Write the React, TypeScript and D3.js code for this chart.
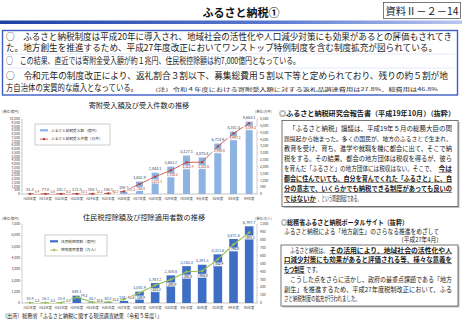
import React from 'react';
import * as d3 from 'd3';

const FONT = "'Noto Sans CJK JP', 'Noto Sans', sans-serif";

// ---------- chart data ----------
const topCategories = ['H20年度', 'H21年度', 'H22年度', 'H23年度', 'H24年度', 'H25年度', 'H26年度', 'H27年度', 'H28年度', 'H29年度', 'H30年度', 'R元年度', 'R2年度', 'R3年度', 'R4年度'];
const donationAmount = [81.4, 77.0, 102.2, 121.6, 104.1, 145.6, 388.5, 1652.9, 2844.1, 3653.2, 5127.1, 4875.4, 6724.9, 8302.4, 9654.1];
const donationCount = [5.4, 5.6, 8.0, 10.1, 12.2, 42.7, 191.3, 726.0, 1271.1, 1730.2, 2322.4, 2333.6, 3488.8, 4447.3, 5184.3];
const topLeftTicks = [0, 500, 1000, 1500, 2000, 2500, 3000, 3500, 4000, 4500, 5000, 5500, 6000, 6500, 7000, 7500, 8000, 8500, 9000, 9500, 10000];
const topRightTicks = [0, 500, 1000, 1500, 2000, 2500, 3000, 3500, 4000, 4500, 5000, 5500];

const bottomCategories = ['H21年度', 'H22年度', 'H23年度', 'H24年度', 'H25年度', 'H26年度', 'H27年度', 'H28年度', 'H29年度', 'H30年度', 'R元年度', 'R2年度', 'R3年度', 'R4年度', 'R5年度'];
const deductionAmount = [18.9, 16.1, 20.4, 649.1, 45.3, 60.6, 184.2, 1001.9, 1767.2, 2448.6, 3265.4, 3391.3, 4311.6, 5672.6, 6797.7];
const deductionPeople = [3.3, 3.3, 3.3, 74.2, 10.6, 13.3, 43.6, 129.9, 225.2, 295.9, 395.5, 406.0, 552.4, 740.8, 891.1];
const bottomLeftTicks = [0, 1000, 2000, 3000, 4000, 5000, 6000, 7000];
const bottomRightTicks = [0, 100, 200, 300, 400, 500, 600, 700, 800, 900, 1000];

const fmt1 = d3.format(',.1f');
const fmtTick = d3.format(',');

type ComboProps = {
  cats: string[]; bars: number[]; line: number[];
  left: number; right: number; top: number; bottom: number;
  leftMax: number; rightMax: number; leftTicks: number[]; rightTicks: number[];
  barColor: string; lineColor: string; barLabelColor: string; lineLabelColor: string;
  barPad: number; marker: 'square' | 'diamond';
  title: string; titleX: number; titleY: number;
  leftUnit: string; rightUnit: string; unitY: number;
  legend: [number, number, number, number]; legendBar: string; legendLine: string;
  nearPoint: number;
};

function Combo(p: ComboProps) {
  const x = d3.scaleBand<string>().domain(p.cats).range([p.left, p.right]).paddingInner(p.barPad).paddingOuter(p.barPad / 2);
  const yL = d3.scaleLinear().domain([0, p.leftMax]).range([p.bottom, p.top]);
  const yR = d3.scaleLinear().domain([0, p.rightMax]).range([p.bottom, p.top]);
  const cx = (c: string) => (x(c) as number) + x.bandwidth() / 2;
  const lineGen = d3.line<number>().x((_, i) => cx(p.cats[i])).y((d) => yR(d));
  const [lx, ly, lw, lh] = p.legend;
  const fs = 3.4;
  return (
    <g fontFamily={FONT}>
      <text x={p.titleX} y={p.titleY} textAnchor="middle" fontSize={7.2} fill="#222">{p.title}</text>
      <text x={2} y={p.unitY} fontSize={3.4} fill="#444">{p.leftUnit}</text>
      <text x={p.right - 2} y={p.unitY} fontSize={3.4} fill="#444">{p.rightUnit}</text>
      {/* axes */}
      <line x1={p.left} x2={p.left} y1={p.top} y2={p.bottom} stroke="#a0a0a0" strokeWidth={0.5} />
      <line x1={p.right} x2={p.right} y1={p.top} y2={p.bottom} stroke="#a0a0a0" strokeWidth={0.5} />
      <line x1={p.left} x2={p.right} y1={p.bottom} y2={p.bottom} stroke="#a0a0a0" strokeWidth={0.6} />
      {p.leftTicks.map((t) => (
        <g key={'l' + t}>
          <line x1={p.left - 1.2} x2={p.left} y1={yL(t)} y2={yL(t)} stroke="#a0a0a0" strokeWidth={0.4} />
          <text x={p.left - 2} y={yL(t) + 1.2} textAnchor="end" fontSize={fs} fill="#444">{fmtTick(t)}</text>
        </g>
      ))}
      {p.rightTicks.map((t) => (
        <g key={'r' + t}>
          <line x1={p.right} x2={p.right + 1.2} y1={yR(t)} y2={yR(t)} stroke="#a0a0a0" strokeWidth={0.4} />
          <text x={p.right + 3} y={yR(t) + 1.2} textAnchor="start" fontSize={fs} fill="#444">{fmtTick(t)}</text>
        </g>
      ))}
      {/* bars */}
      {p.bars.map((v, i) => (
        <rect key={'b' + i} x={x(p.cats[i])} y={yL(v)} width={x.bandwidth()} height={p.bottom - yL(v)} fill={p.barColor} />
      ))}
      {p.cats.map((c) => (
        <text key={'c' + c} x={cx(c)} y={p.bottom + 5.5} textAnchor="middle" fontSize={3.3} fill="#444">{c}</text>
      ))}
      {/* line */}
      <path d={lineGen(p.line) || ''} fill="none" stroke={p.lineColor} strokeWidth={p.marker === 'square' ? 0.8 : 1.1} />
      {p.line.map((v, i) => {
        const px = cx(p.cats[i]);
        const py = yR(v);
        return p.marker === 'square' ? (
          <rect key={'m' + i} x={px - 1} y={py - 1} width={2} height={2} fill={p.lineColor} />
        ) : (
          <path key={'m' + i} d={`M${px},${py - 1.5}L${px + 1.5},${py}L${px},${py + 1.5}L${px - 1.5},${py}Z`} fill={p.lineColor} />
        );
      })}
      {/* bar labels */}
      {p.bars.map((v, i) => (
        <text key={'bl' + i} x={cx(p.cats[i])} y={yL(v) - 2.4} textAnchor="middle" fontSize={3.8} fill={p.barLabelColor}>{fmt1(v)}</text>
      ))}
      {/* line labels */}
      {p.line.map((v, i) => {
        const label = fmt1(v);
        const w = label.length * 1.95 + 1.2;
        const near = i < p.nearPoint;
        const tx = near ? cx(p.cats[i]) + 7.2 : cx(p.cats[i]) + 1.5;
        const ty = near ? yR(v) - 0.6 : yR(v) + 6;
        return (
          <g key={'ll' + i}>
            <rect x={tx - w / 2} y={ty - 3.1} width={w} height={4} fill="#fff" fillOpacity={0.9} />
            <text x={tx} y={ty} textAnchor="middle" fontSize={3.3} fill={p.lineLabelColor}>{label}</text>
          </g>
        );
      })}
      {/* legend */}
      <rect x={lx} y={ly} width={lw} height={lh} fill="#fff" stroke="#9a9a9a" strokeWidth={0.5} />
      <rect x={lx + 5} y={ly + lh * 0.3 - 1.1} width={8} height={2.2} fill={p.barColor} />
      <text x={lx + 16} y={ly + lh * 0.3 + 1.3} fontSize={3.7} fill="#333">{p.legendBar}</text>
      <line x1={lx + 5} x2={lx + 13} y1={ly + lh * 0.72} y2={ly + lh * 0.72} stroke={p.lineColor} strokeWidth={0.8} />
      {p.marker === 'square' ? (
        <rect x={lx + 8} y={ly + lh * 0.72 - 1} width={2} height={2} fill={p.lineColor} />
      ) : (
        <path d={`M${lx + 9},${ly + lh * 0.72 - 1.5}l1.5,1.5l-1.5,1.5l-1.5,-1.5Z`} fill={p.lineColor} />
      )}
      <text x={lx + 16} y={ly + lh * 0.72 + 1.3} fontSize={3.7} fill="#333">{p.legendLine}</text>
    </g>
  );
}

type Seg = { t: string; x: number; w: number; b?: boolean };
function Line({ y, segs, fs }: { y: number; segs: Seg[]; fs: number }) {
  return (
    <g>
      {segs.map((s, i) => (
        <g key={i}>
          <text x={s.x} y={y} fontSize={fs} fontWeight={s.b ? 700 : 400} textLength={s.w} lengthAdjust="spacingAndGlyphs" fill="#1a1a1a">{s.t}</text>
          {s.b && <line x1={s.x} x2={s.x + s.w} y1={y + 1.3} y2={y + 1.3} stroke="#1a1a1a" strokeWidth={0.6} />}
        </g>
      ))}
    </g>
  );
}

export default function App() {
  return (
    <svg width={462} height={320} viewBox="0 0 462 320" style={{ position: 'absolute', left: 0, top: 0, background: '#fff' }} fontFamily={FONT}>
      <defs>
        <linearGradient id="hdr" x1="0" x2="1" y1="0" y2="0">
          <stop offset="0" stopColor="#1d3fa6" />
          <stop offset="0.6" stopColor="#5a7ad2" />
          <stop offset="1" stopColor="#b9c7ef" />
        </linearGradient>
      </defs>
      <rect x={0} y={0} width={462} height={320} fill="#fff" />
      {/* header */}
      <text x={241} y={16.5} textAnchor="middle" fontSize={11} fontWeight={700} fill="#111">ふるさと納税①</text>
      <rect x={383.5} y={2.5} width={77} height={16} fill="#fff" stroke="#444" strokeWidth={0.7} />
      <text x={385.5} y={15} fontSize={10.5} textLength={73} lengthAdjust="spacingAndGlyphs" fill="#222">資料Ⅱ－２－14</text>
      <rect x={0} y={20.5} width={462} height={3.5} fill="url(#hdr)" />

      {/* summary box */}
      <rect x={2.5} y={30.5} width={455} height={64.5} fill="#fff" stroke="#3d5cc6" strokeWidth={1.4} />
      <line x1={5} x2={455} y1={54} y2={54} stroke="#c9d2f0" strokeWidth={0.5} />
      <line x1={5} x2={455} y1={68} y2={68} stroke="#c9d2f0" strokeWidth={0.5} />
      <Line y={40} fs={8.6} segs={[{ t: '○　ふるさと納税制度は平成20年に導入され、地域社会の活性化や人口減少対策にも効果があるとの評価もされてき', x: 6, w: 446 }]} />
      <Line y={50.5} fs={8.6} segs={[{ t: 'た。地方創生を推進するため、平成27年度改正においてワンストップ特例制度を含む制度拡充が図られている。', x: 6, w: 431 }]} />
      <Line y={64} fs={8.6} segs={[{ t: '○　この結果、直近では寄附金受入額が約１兆円、住民税控除額は約7,000億円となっている。', x: 6, w: 294 }]} />
      <Line y={78.5} fs={8.6} segs={[{ t: '○　令和元年の制度改正により、返礼割合３割以下、募集総費用５割以下等と定められており、残りの約５割が地', x: 6, w: 442 }]} />
      <Line y={91} fs={8.6} segs={[{ t: '方自治体の実質的な歳入となっている。', x: 6, w: 132 }]} />
      <text x={151} y={90.5} fontSize={4.6} textLength={287} lengthAdjust="spacingAndGlyphs" fill="#222">（注）令和４年度における寄附受入額に対する返礼品調達費用は27.8%、総費用は46.8%</text>

      {/* charts */}
      <Combo
        cats={topCategories} bars={donationAmount} line={donationCount}
        left={22} right={257} top={119} bottom={194}
        leftMax={10000} rightMax={5500} leftTicks={topLeftTicks} rightTicks={topRightTicks}
        barColor="#8db3e2" lineColor="#c0392b" barLabelColor="#34425e" lineLabelColor="#c0392b"
        barPad={0.55} marker="square"
        title="寄附受入額及び受入件数の推移" titleX={139} titleY={108}
        leftUnit="(単位:億円)" rightUnit="(単位:万件)" unitY={113}
        legend={[35, 124, 75, 21]} legendBar="ふるさと納税受入額（億円）" legendLine="ふるさと納税受入件数（万件）"
        nearPoint={7}
      />
      <Combo
        cats={bottomCategories} bars={deductionAmount} line={deductionPeople}
        left={22} right={257} top={224} bottom={303}
        leftMax={7000} rightMax={1000} leftTicks={bottomLeftTicks} rightTicks={bottomRightTicks}
        barColor="#3f6fc4" lineColor="#9bc04e" barLabelColor="#2a4f9a" lineLabelColor="#333"
        barPad={0.45} marker="diamond"
        title="住民税控除額及び控除適用者数の推移" titleX={144} titleY={219.5}
        leftUnit="(単位:億円)" rightUnit="(単位:万人)" unitY={220}
        legend={[45, 235, 62, 21]} legendBar="住民税控除額（億円）" legendLine="控除適用者数（万人）"
        nearPoint={7}
      />
      <text x={2} y={317.5} fontSize={5.6} textLength={160} lengthAdjust="spacingAndGlyphs" fill="#222">（出所）総務省「ふるさと納税に関する現況調査結果（令和５年度）」</text>

      {/* right panel 1 */}
      <text x={279} y={115.5} fontSize={7} fontWeight={700} textLength={176} lengthAdjust="spacingAndGlyphs" fill="#1a1a1a">◎ふるさと納税研究会報告書（平成19年10月）（抜粋）</text>
      <rect x={283.5} y={122} width={176} height={86} fill="#bdbdbd" />
      <rect x={282} y={120.5} width={176} height={86} fill="#fff" stroke="#555" strokeWidth={0.8} />
      <Line y={130.5} fs={6.4} segs={[{ t: '「ふるさと納税」論議は、平成19年５月の総務大臣の問', x: 289, w: 163 }]} />
      <Line y={140.6} fs={6.0} segs={[{ t: '題提起から始まった。多くの国民が、地方のふるさとで生まれ、', x: 284, w: 168 }]} />
      <Line y={150.7} fs={6.4} segs={[{ t: '教育を受け、育ち、進学や就職を機に都会に出て、そこで納', x: 284, w: 168 }]} />
      <Line y={160.8} fs={6.4} segs={[{ t: '税をする。その結果、都会の地方団体は税収を得るが、彼ら', x: 284, w: 168 }]} />
      <Line y={170.9} fs={6.4} segs={[{ t: 'を育んだ「ふるさと」の地方団体には税収はない。そこで、', x: 284, w: 151 }, { t: '今は', x: 438.5, w: 13.5, b: true }]} />
      <Line y={181} fs={6.4} segs={[{ t: '都会に住んでいても、自分を育んでくれた「ふるさと」に、自', x: 284, w: 168, b: true }]} />
      <Line y={191.1} fs={6.4} segs={[{ t: '分の意志で、いくらかでも納税できる制度があっても良いの', x: 284, w: 168, b: true }]} />
      <Line y={201.2} fs={6.4} segs={[{ t: 'ではないか', x: 284, w: 32, b: true }, { t: '、という問題提起である。', x: 318, w: 43 }]} />

      {/* right panel 2 */}
      <text x={281} y={224.5} fontSize={7} fontWeight={700} textLength={127} lengthAdjust="spacingAndGlyphs" fill="#1a1a1a">◎総務省ふるさと納税ポータルサイト（抜粋）</text>
      <text x={284} y={233.5} fontSize={6.4} textLength={155} lengthAdjust="spacingAndGlyphs" fill="#1a1a1a">ふるさと納税による「地方創生」のさらなる推進をめざして</text>
      <text x={398} y={241.5} fontSize={6.4} textLength={44} lengthAdjust="spacingAndGlyphs" fill="#1a1a1a">（平成27年4月）</text>
      <rect x={282.5} y={246.5} width={177} height={61} fill="#bdbdbd" />
      <rect x={281} y={245} width={177} height={61} fill="#fff" stroke="#555" strokeWidth={0.8} />
      <Line y={252.5} fs={6.4} segs={[{ t: 'ふるさと納税は、', x: 290, w: 38 }, { t: 'その活用により、地域社会の活性化や人', x: 329.5, w: 122.5, b: true }]} />
      <Line y={262.3} fs={6.4} segs={[{ t: '口減少対策にも効果があると評価される等、様々な意義を', x: 284, w: 168, b: true }]} />
      <Line y={272.1} fs={6.4} segs={[{ t: 'もつ制度', x: 284, w: 20.5, b: true }, { t: 'です。', x: 306, w: 15 }]} />
      <Line y={281.9} fs={6.4} segs={[{ t: 'こうした点をさらに活かし、政府の最重点課題である「地方', x: 290, w: 162 }]} />
      <Line y={291.5} fs={6.4} segs={[{ t: '創生」を推進するため、平成27年度税制改正において、ふる', x: 284, w: 168 }]} />
      <Line y={301} fs={6.4} segs={[{ t: 'さと納税制度の拡充が行われました。', x: 284, w: 76 }]} />
    </svg>
  );
}
